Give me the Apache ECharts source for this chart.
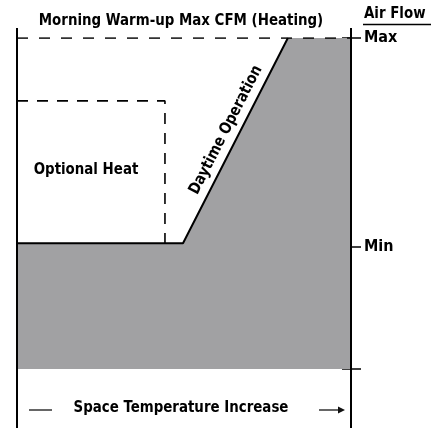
<!DOCTYPE html>
<html><head><meta charset="utf-8">
<script src="https://cdn.jsdelivr.net/npm/echarts@6/dist/echarts.min.js"></script>
<style>html,body{margin:0;padding:0;background:#fff}#c{width:435px;height:428px}</style>
</head><body><div id="c"></div>
<script>
const FONT = "'Liberation Sans Narrow','Arial Narrow','DejaVu Sans Condensed',sans-serif";
// chart units: x 0..100 = space temperature, y 0..100 = air flow (0 = base, 100 = Max)
const minFlow = 38;
const maxFlow = 100;
const rampStart = 49.7;
const rampEnd = 81.1;
const optHeatFlow = 81;
const optHeatEnd = 44.3;
const tickValues = [0, 37, 100];
const tickLabels = ['', 'Min', 'Max'];
const fillX = [0, rampStart, rampEnd, 100];
const fillY = [minFlow, minFlow, maxFlow, maxFlow];
const axisExtent = [103, -18];

const fillData = fillX.map((x, i) => [x, fillY[i]]);
const outlineData = fillData.slice(0, 3);

const chart = echarts.init(document.getElementById('c'), null, {renderer: 'canvas'});
const baseY = {type: 'value', min: 0, max: 100, position: 'right', splitLine: {show: false}, axisLine: {show: false}};
const SX = 0.93;
function txt(x, y, text, align, rot) {
  return {type: 'text', x: x, y: y, scaleX: SX, rotation: rot || 0,
    style: {text: text, font: 'bold 16px ' + FONT, fill: '#000', textAlign: align, textVerticalAlign: 'middle'}};
}
chart.setOption({
  animation: false,
  grid: {left: 17, right: 84, top: 38, bottom: 59},
  xAxis: {type: 'value', min: 0, max: 100, show: false},
  yAxis: [
    {type: 'value', min: 0, max: 100, show: false},
    Object.assign({}, baseY, {
      axisTick: {show: true, inside: false, length: 10, customValues: tickValues, lineStyle: {color: '#000', width: 1.5}},
      axisLabel: {show: true, customValues: [37, 100], formatter: v => tickLabels[tickValues.indexOf(v)],
        margin: 13, fontFamily: FONT, fontWeight: 'bold', fontSize: 16, color: '#000'}
    }),
    Object.assign({}, baseY, {
      axisTick: {show: true, inside: true, length: 9, customValues: tickValues, lineStyle: {color: '#000', width: 1.5}},
      axisLabel: {show: false}
    })
  ],
  series: [
    {type: 'line', data: fillData, symbol: 'none', lineStyle: {width: 0, opacity: 0},
     areaStyle: {color: '#a1a1a3', opacity: 1, origin: 'start'}, z: 1},
    {type: 'line', data: outlineData, symbol: 'none', lineStyle: {color: '#000', width: 2}, z: 3},
    {type: 'line', data: [[0, maxFlow], [100, maxFlow]], symbol: 'none',
     lineStyle: {color: '#000', width: 1.6, type: [11, 11]}, z: 3},
    {type: 'line', data: [[0, optHeatFlow], [optHeatEnd, optHeatFlow], [optHeatEnd, minFlow]], symbol: 'none',
     lineStyle: {color: '#000', width: 1.6, type: [11, 9]}, z: 3},
    {type: 'line', data: [[0, axisExtent[0]], [0, axisExtent[1]]], symbol: 'none', clip: false,
     lineStyle: {color: '#000', width: 2}, z: 4},
    {type: 'line', data: [[100, axisExtent[0]], [100, axisExtent[1]]], symbol: 'none', clip: false,
     lineStyle: {color: '#000', width: 2}, z: 4}
  ],
  graphic: [
    txt(181, 21, 'Morning Warm-up Max CFM (Heating)', 'center'),
    txt(364, 14, 'Air Flow', 'left'),
    {type: 'line', shape: {x1: 363, y1: 24.5, x2: 431, y2: 24.5}, style: {stroke: '#000', lineWidth: 1.5}},
    txt(86, 170, 'Optional Heat', 'center'),
    txt(226, 130, 'Daytime Operation', 'center', 62.9 * Math.PI / 180),
    txt(181, 408, 'Space Temperature Increase', 'center'),
    {type: 'line', shape: {x1: 29, y1: 410, x2: 52, y2: 410}, style: {stroke: '#333', lineWidth: 1.5}},
    {type: 'line', shape: {x1: 319, y1: 410, x2: 339, y2: 410}, style: {stroke: '#333', lineWidth: 1.5}},
    {type: 'polygon', shape: {points: [[338, 406.5], [345, 410], [338, 413.5]]}, style: {fill: '#111'}}
  ]
});
</script></body></html>
